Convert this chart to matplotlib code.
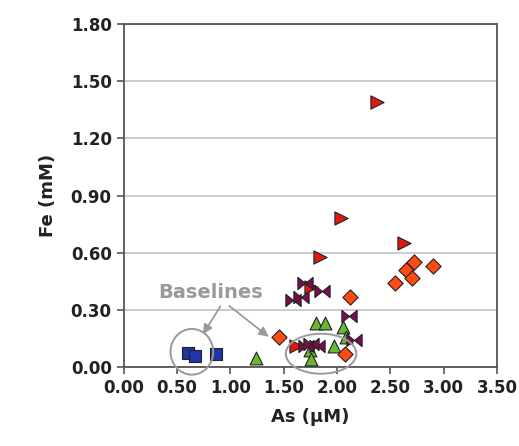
import numpy as np
import matplotlib
matplotlib.use('Agg')
import matplotlib.pyplot as plt
from matplotlib.patches import Ellipse

# As (uM) vs Fe (mM)
blue_x = [0.60, 0.67, 0.87]
blue_y = [0.074, 0.058, 0.068]

green_x = [1.24, 1.80, 1.89, 2.06, 2.08, 1.97, 1.75, 1.76]
green_y = [0.05, 0.23, 0.23, 0.21, 0.16, 0.11, 0.09, 0.04]

red_x = [2.37, 2.04, 2.63, 1.84, 1.76, 1.62]
red_y = [1.39, 0.78, 0.65, 0.58, 0.42, 0.11]

orange_x = [2.54, 2.65, 2.72, 2.70, 2.90, 2.12, 1.46, 2.07]
orange_y = [0.44, 0.51, 0.55, 0.47, 0.53, 0.37, 0.16, 0.07]

bow_x = [1.70, 1.86, 1.59, 1.66, 2.11, 2.16, 1.71, 1.81, 1.76]
bow_y = [0.44, 0.40, 0.35, 0.37, 0.27, 0.14, 0.11, 0.11, 0.12]

xticks = [0.0, 0.5, 1.0, 1.5, 2.0, 2.5, 3.0, 3.5]
yticks = [0.0, 0.3, 0.6, 0.9, 1.2, 1.5, 1.8]

bowtie = [(-1, 0.8), (1, -0.8), (1, 0.8), (-1, -0.8), (-1, 0.8)]

fig = plt.figure(figsize=(5.19, 4.46), dpi=100)
ax = fig.add_axes([0.238, 0.177, 0.720, 0.769])

ax.set_xlim(0, 3.5)
ax.set_ylim(0, 1.8)
ax.set_xticks(xticks)
ax.set_yticks(yticks)
ax.set_xticklabels(['%.2f' % v for v in xticks])
ax.set_yticklabels(['%.2f' % v for v in yticks])
ax.yaxis.grid(True, color='#c4c4c4', lw=1.2)
ax.set_axisbelow(True)
for s in ax.spines.values():
    s.set_color('#555555')
    s.set_linewidth(1.3)
ax.tick_params(direction='out', length=5, width=1.2, color='#555555',
               labelsize=12, labelcolor='#222222')
for lab in ax.get_xticklabels() + ax.get_yticklabels():
    lab.set_fontweight('bold')

ec = '#222222'
ax.scatter(blue_x, blue_y, s=85, marker='s', c='#1f35a8', edgecolors=ec, lw=0.8, zorder=3)
ax.scatter(green_x, green_y, s=85, marker='^', c='#6ab832', edgecolors=ec, lw=0.8, zorder=3)
ax.scatter(orange_x, orange_y, s=60, marker='D', c='#ff4a12', edgecolors=ec, lw=0.8, zorder=3)
ax.scatter(red_x, red_y, s=90, marker='>', c='#dd1a10', edgecolors=ec, lw=0.8, zorder=3)
ax.scatter(bow_x, bow_y, s=120, marker=bowtie, c='#7c0c4e', edgecolors=ec, lw=0.8, zorder=4)

# baseline circles and callout
ax.add_patch(Ellipse((0.64, 0.08), 0.40, 0.24, fill=False, ec='#9a9a9a', lw=1.4,
                     clip_on=False, zorder=5))
ax.add_patch(Ellipse((1.85, 0.07), 0.66, 0.21, fill=False, ec='#9a9a9a', lw=1.4,
                     clip_on=False, zorder=5))
ax.text(0.82, 0.39, 'Baselines', ha='center', va='center', fontsize=14,
        fontweight='bold', color='#9a9a9a')
arr = dict(arrowstyle='-|>', color='#9a9a9a', lw=1.3, mutation_scale=14)
ax.annotate('', xy=(0.73, 0.16), xytext=(0.92, 0.33), arrowprops=arr)
ax.annotate('', xy=(1.38, 0.15), xytext=(0.97, 0.33), arrowprops=arr)

ax.set_xlabel('As (µM)', fontsize=13, fontweight='bold', color='#222222', labelpad=8)
ax.set_ylabel('Fe (mM)', fontsize=13, fontweight='bold', color='#222222', labelpad=10)

fig.savefig('out.png', dpi=100)
